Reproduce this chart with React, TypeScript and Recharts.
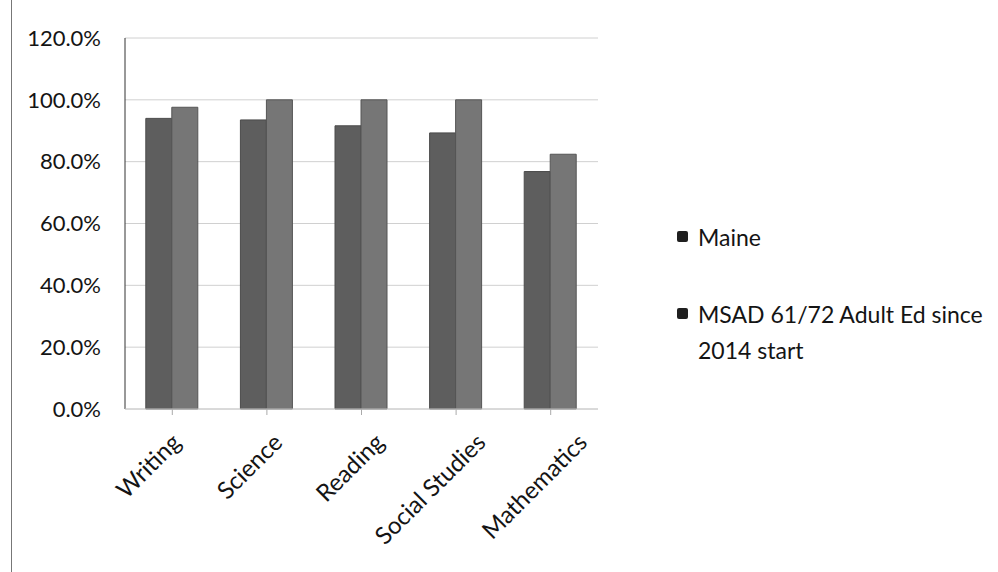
import { Bar, BarChart, CartesianGrid, XAxis, YAxis } from "recharts"

const subjects = ["Writing", "Science", "Reading", "Social Studies", "Mathematics"]
const maine = [94.0, 93.5, 91.6, 89.3, 76.8]
const msad = [97.6, 100, 100, 100, 82.4]
const yTicks = [0, 20, 40, 60, 80, 100, 120]

const data = subjects.map((subject, i) => ({
  subject,
  maine: maine[i],
  msad: msad[i],
}))

const font = "Lato, 'Open Sans', sans-serif"

// the scanned labels drift right a little per category
function CategoryTick({ x, y, payload, index }: any) {
  const tx = x + 10 + 7 * index
  const ty = y + 27
  return (
    <text
      x={tx}
      y={ty}
      transform={`rotate(-45 ${tx} ${ty})`}
      textAnchor="end"
      fontSize={24}
      fontFamily={font}
      fill="#141414"
    >
      {payload.value}
    </text>
  )
}

function LegendItem({ color, lines, top }: { color: string; lines: string[]; top: number }) {
  return (
    <div style={{ position: "absolute", left: 677, top, display: "flex", alignItems: "flex-start" }}>
      <div style={{ width: 11, height: 11, background: color, borderRadius: 2, marginTop: 12, marginRight: 10 }} />
      <div style={{ fontSize: 23, lineHeight: "36px", color: "#141414", fontFamily: font }}>
        {lines.map((l) => (
          <div key={l}>{l}</div>
        ))}
      </div>
    </div>
  )
}

export default function App() {
  return (
    <div style={{ position: "absolute", left: 0, top: 0, width: 998, height: 572, background: "#fff" }}>
      <div style={{ position: "absolute", left: 11, top: 0, width: 1, height: 572, background: "#777" }} />
      <BarChart
        width={998}
        height={572}
        data={data}
        margin={{ top: 38, right: 400, bottom: 0, left: 0 }}
        barCategoryGap="22%"
        barGap={0}
      >
        <CartesianGrid vertical={false} stroke="#d0d0d0" />
        <YAxis
          width={125}
          domain={[0, 120]}
          ticks={yTicks}
          tickFormatter={(v: number) => `${v.toFixed(1)}%`}
          tick={{ fontSize: 22, fontFamily: font, fill: "#141414" }}
          tickLine={false}
          axisLine={{ stroke: "#333" }}
          tickMargin={18}
        />
        <XAxis
          dataKey="subject"
          height={163}
          interval={0}
          tick={<CategoryTick />}
          tickLine={{ stroke: "#aaa" }}
          axisLine={{ stroke: "#ccc" }}
        />
        <Bar dataKey="maine" name="Maine" fill="#5e5e5e" stroke="#4a4a4a" isAnimationActive={false} />
        <Bar dataKey="msad" name="MSAD 61/72 Adult Ed since 2014 start" fill="#767676" stroke="#555" isAnimationActive={false} />
      </BarChart>
      <LegendItem color="#1f1f1f" lines={["Maine"]} top={219} />
      <LegendItem color="#1f1f1f" lines={["MSAD 61/72 Adult Ed since", "2014 start"]} top={296} />
    </div>
  )
}
